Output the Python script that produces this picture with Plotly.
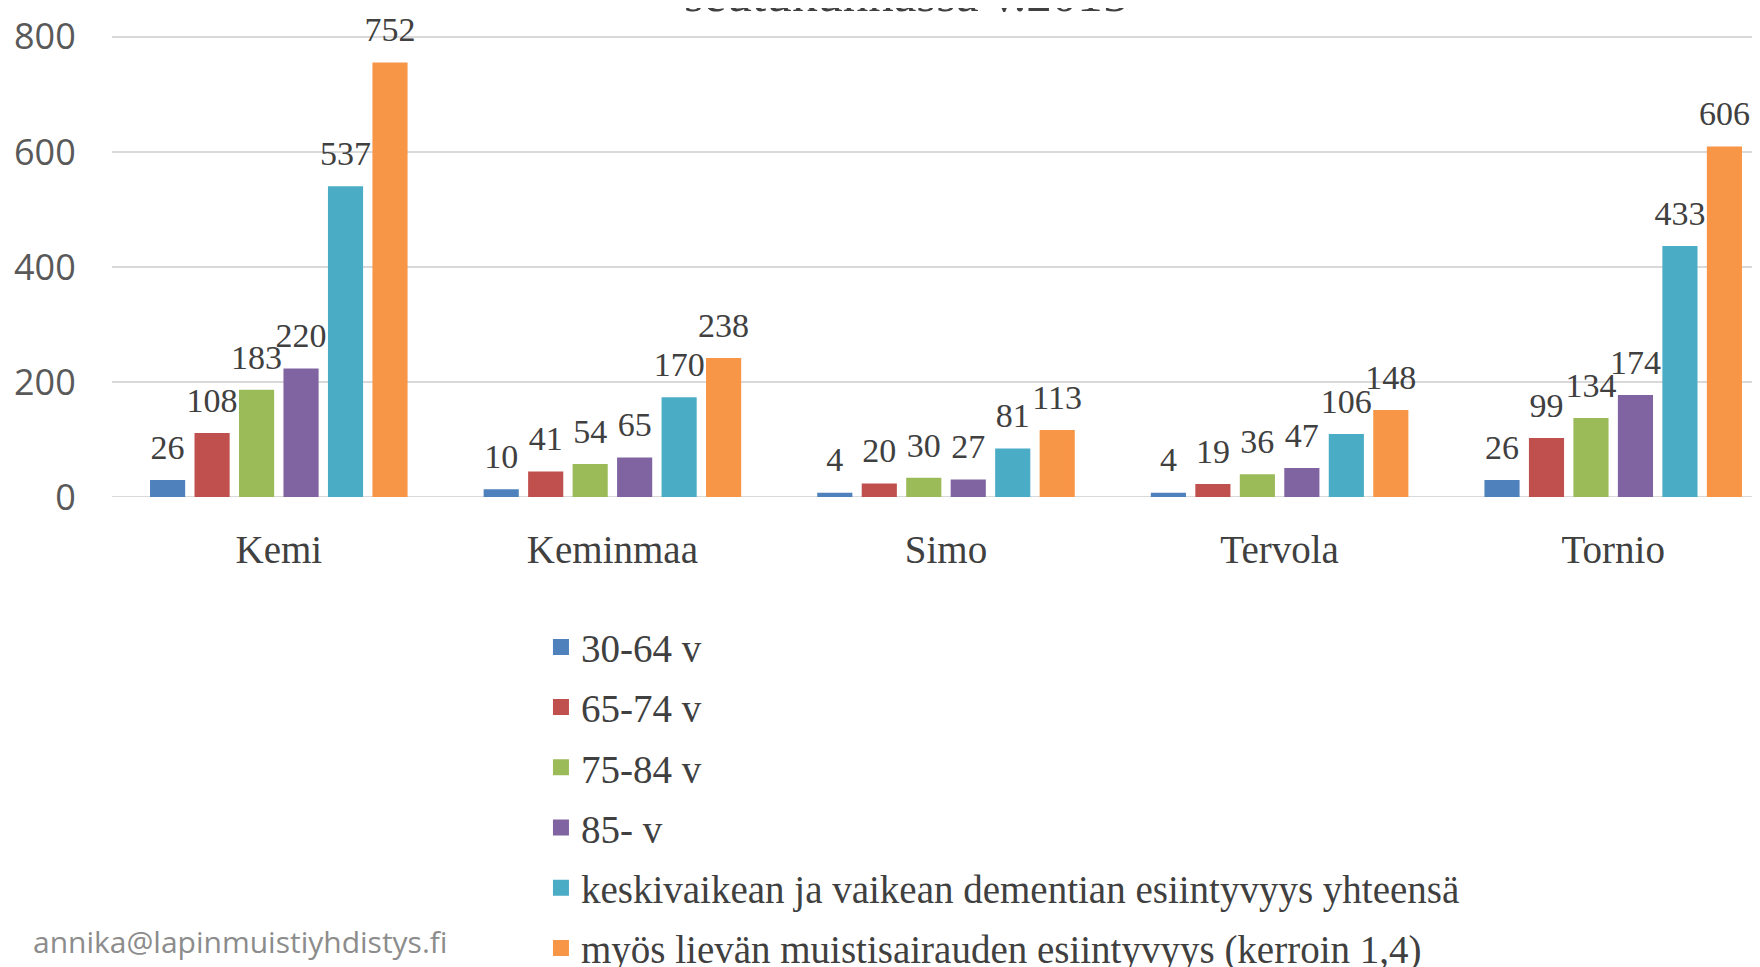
import plotly.graph_objects as go

categories = ["Kemi", "Keminmaa", "Simo", "Tervola", "Tornio"]
series_names = [
    "30-64 v",
    "65-74 v",
    "75-84 v",
    "85- v",
    "keskivaikean ja vaikean dementian esiintyvyys yhteensä",
    "myös lievän muistisairauden esiintyvyys (kerroin 1,4)",
]
values_30_64 = [26, 10, 4, 4, 26]
values_65_74 = [108, 41, 20, 19, 99]
values_75_84 = [183, 54, 30, 36, 134]
values_85 = [220, 65, 27, 47, 174]
values_total = [537, 170, 81, 106, 433]
values_mild = [752, 238, 113, 148, 606]
series_values = [values_30_64, values_65_74, values_75_84, values_85, values_total, values_mild]
colors = ["#4F81BD", "#C0504D", "#9BBB59", "#8064A2", "#4BACC6", "#F79646"]
y_ticks = [0, 200, 400, 600, 800]
title_visible = "seutukunnassa v.2015"
footer = "annika@lapinmuistiyhdistys.fi"

fig = go.Figure()
for i, (name, vals, col) in enumerate(zip(series_names, series_values, colors)):
    fig.add_trace(go.Bar(
        x=categories, y=vals, name=name,
        marker=dict(color=col, line=dict(width=4, color=col)),
        offsetgroup=f"s{i}", alignmentgroup="a",
        legendgroup=f"g{i}",
    ))
for i, (name, vals) in enumerate(zip(series_names, series_values)):
    fig.add_trace(go.Scatter(
        x=categories, y=vals, mode="markers+text", showlegend=False,
        marker=dict(size=22, opacity=0), hoverinfo="skip",
        text=[str(v) for v in vals], textposition="top center", cliponaxis=False,
        textfont=dict(family="Liberation Serif", size=34, color="#404040"),
        offsetgroup=f"s{i}", alignmentgroup="a", legendgroup=f"g{i}",
    ))

fig.update_layout(
    width=1752, height=959,
    paper_bgcolor="white", plot_bgcolor="white",
    margin=dict(l=104, r=0, t=26, b=470, autoexpand=False),
    barmode="group", bargap=0.2, bargroupgap=0.3,
    scattermode="group", scattergap=0.2,
    showlegend=True,
    legend=dict(
        xref="container", yref="container", x=0.3042, y=0.367,
        xanchor="left", yanchor="top",
        font=dict(family="Liberation Serif", size=39, color="#404040"),
        tracegroupgap=6.5, bgcolor="rgba(0,0,0,0)",
    ),
    xaxis=dict(
        range=[-0.5, 4.44], showgrid=False, showline=False, zeroline=False,
        ticks="outside", ticklen=18, tickcolor="rgba(0,0,0,0)",
        tickfont=dict(family="Liberation Serif", size=39, color="#404040"),
    ),
    yaxis=dict(
        range=[0, 805], tickvals=y_ticks, showgrid=True, gridcolor="#D9D9D9", gridwidth=2,
        zeroline=False, showline=False,
        ticks="outside", ticklen=28, tickcolor="rgba(0,0,0,0)",
        tickfont=dict(family="Open Sans", size=36, color="#595959"),
    ),
    annotations=[
        dict(text=title_visible, xref="paper", yref="paper", x=0.482, y=1.086,
             xanchor="center", yanchor="middle", showarrow=False,
             font=dict(family="Liberation Serif", size=51, color="#404040")),
        dict(text=footer, xref="paper", yref="paper", x=-0.049, y=-0.959,
             xanchor="left", yanchor="middle", showarrow=False,
             font=dict(family="Open Sans", size=30, color="#8C8C8C")),
    ],
)
fig.add_hline(y=0, line=dict(color="#D9D9D9", width=2), layer="below")

fig.write_html("out.html")
